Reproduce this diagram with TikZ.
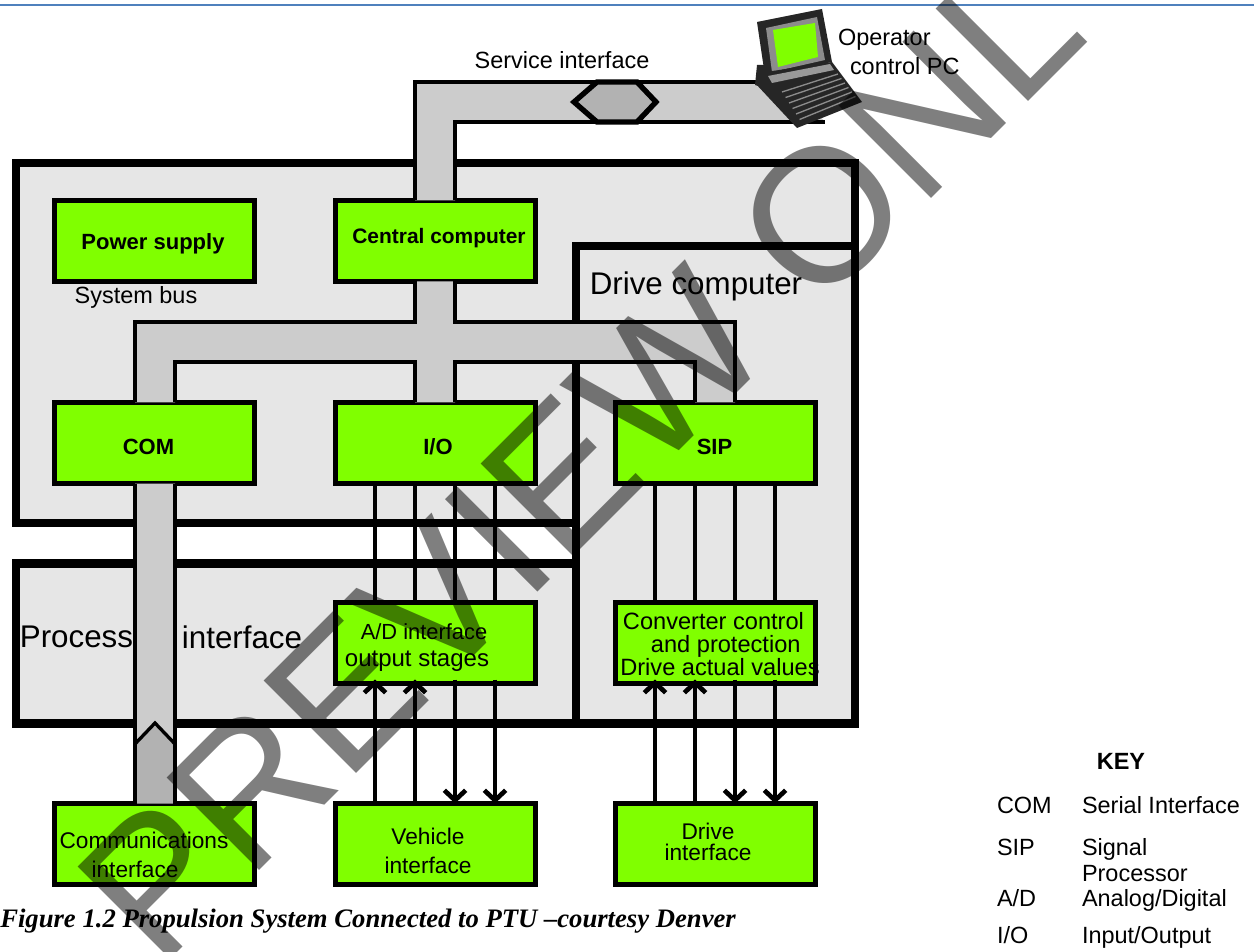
\documentclass[tikz,border=0pt]{standalone}
\usepackage{fontspec}
\setmainfont{Liberation Sans}
\newfontfamily\capfont{Liberation Serif}
\usetikzlibrary{arrows.meta}
\newcommand\pxu{0.75pt}
\definecolor{grn}{HTML}{80FF00}
\definecolor{frm}{HTML}{E6E6E6}
\definecolor{busa}{HTML}{CCCCCC}
\definecolor{busb}{HTML}{B2B2B2}
\definecolor{rule}{HTML}{4F81BD}
\tikzset{
  x=0.75pt,y=-0.75pt,
  frame/.style={draw=black,fill=frm,line width=6.5pt,miter limit=10},
  gbox/.style={draw=black,fill=grn,line width=3.75pt,minimum width=200*\pxu,minimum height=81*\pxu,outer sep=0pt,inner sep=0pt},
  lab/.style={inner sep=0pt,outer sep=0pt,align=center,font=\fontsize{17}{22}\selectfont},
  blab/.style={inner sep=0pt,outer sep=0pt,font=\fontsize{16.5}{18}\selectfont\bfseries},
  wire/.style={draw=black,line width=3.5pt},
  wired/.style={wire,-{Straight Barb[length=7.5pt,width=16pt,line width=3.5pt]}},
  txt/.style={inner sep=0pt,outer sep=0pt,font=\fontsize{17.6}{20}\selectfont},
  big/.style={inner sep=0pt,outer sep=0pt,font=\fontsize{23.5}{26}\selectfont},
  key/.style={inner sep=0pt,outer sep=0pt,anchor=base west,font=\fontsize{17.6}{20}\selectfont},
}
\begin{document}
\begin{tikzpicture}
\useasboundingbox (0,0) rectangle (1254,952);
\clip (0,0) rectangle (1254,952);
\fill[white] (0,0) rectangle (1254,952);
\draw[rule,line width=1.7pt] (0,5) -- (1254,5);
% frames
\draw[frame] (16,163) rectangle (855,523);
\draw[frame] (16,563.5) rectangle (576,723.5);
\draw[frame] (576,246) rectangle (855,723.5);
\fill[frm] (20,167.5) rectangle (570,518.5);
\fill[frm] (570,167.5) rectangle (851,241);
% boxes
\node[gbox] (pwr) at (154,241) {};
\node[gbox] (cpu) at (435,241) {};
\node[gbox] (com) at (154,443) {};
\node[gbox] (io) at (435,443) {};
\node[gbox] (sip) at (715,443) {};
\node[gbox] (ad) at (435,643) {};
\node[gbox] (cnv) at (715,643) {};
\node[gbox] (cif) at (154,844) {};
\node[gbox] (veh) at (435,844) {};
\node[gbox] (drv) at (715,844) {};
\node[blab] (pwrt) at (153,244) {Power supply};
\node[blab,font=\fontsize{15.7}{18}\selectfont\bfseries] (cput) at (439,238) {Central computer};
\node[blab] (comt) at (148.5,446.5) {COM};
\node[blab] (iot) at (438,446.5) {I/O};
\node[blab] (sipt) at (714.5,446.5) {SIP};
\node[lab] (veht) at (428,851) {Vehicle\\interface};
\node[lab,font=\fontsize{16.4}{20}\selectfont] (adt1) at (424,632) {A/D interface};
\node[lab,font=\fontsize{18}{20}\selectfont] (adt2) at (417,661) {output stages};
\node[lab,align=left,font=\fontsize{17.7}{17}\selectfont] (cnt) at (720,644) {\hspace*{2pt}Converter control\\\hspace*{23pt}and protection\\Drive actual values};
\node[lab,align=left] (cit) at (144,855) {Communications\\\hspace*{24pt}interface};
\node[lab,font=\fontsize{17}{16}\selectfont] (drt) at (708,842) {Drive\\interface};
% service bus
\coordinate (sa) at (415,82);
\coordinate (sb) at (455,122);
\coordinate (pcl) at (790,82);
\coordinate (pcm) at (825,122);
\fill[busa] (cpu.north -| sa) -- (sa) -- (pcl) -- (pcm) -- (sb) -- (cpu.north -| sb) -- cycle;
\draw[wire] (cpu.north -| sa) -- (sa) -- (pcl);
\draw[wire] (cpu.north -| sb) -- (sb) -- (pcm);
\path[draw=black,fill=busb,line width=4pt] (574,102) -- (597,82) -- (637,82) -- (656,102) -- (637,122) -- (597,122) -- cycle;
% system bus
\coordinate (b1) at (135,322);
\coordinate (b2) at (175,362);
\coordinate (b3) at (415,322);
\coordinate (b4) at (455,362);
\coordinate (b5) at (695,322);
\coordinate (b6) at (735,362);
\fill[busa] (com.north -| b1) -- (b1) -- (b3) -- (cpu.south -| b3) -- (cpu.south -| b4) -- (b3 -| b4) -- (b6 |- b1) -- (sip.north -| b6) -- (sip.north -| b5) -- (b5 |- b2) -- (b4) -- (io.north -| b4) -- (io.north -| b3) -- (b3 |- b2) -- (b2) -- (com.north -| b2) -- cycle;
\draw[wire] (com.north -| b1) -- (b1) -- (b3) -- (cpu.south -| b3);
\draw[wire] (cpu.south -| b4) -- (b3 -| b4) -- (b6 |- b1) -- (sip.north -| b6);
\draw[wire] (sip.north -| b5) -- (b5 |- b2) -- (b4) -- (io.north -| b4);
\draw[wire] (io.north -| b3) -- (b3 |- b2) -- (b2) -- (com.north -| b2);
\draw[black,line width=6.5pt] (576,363) -- (576,520);
% COM down bus
\coordinate (cx1) at (135,0);
\coordinate (cx2) at (175,0);
\coordinate (chl) at (135,744);
\coordinate (chm) at (155,723);
\coordinate (chr) at (175,744);
\fill[busb] (chl) -- (chm) -- (chr) -- (cif.north -| cx2) -- (cif.north -| cx1) -- cycle;
\fill[busa] (com.south -| cx1) -- (chl) -- (chm) -- (chr) -- (com.south -| cx2) -- cycle;
\draw[wire] (com.south -| cx1) -- (cif.north -| cx1);
\draw[wire] (com.south -| cx2) -- (cif.north -| cx2);
\draw[black,line width=2.5pt] (chl) -- (chm) -- (chr);
% signal wires
\foreach \n/\xx in {a/375,b/415,c/455,d/495,e/655,f/695,g/735,h/775}{\coordinate (w\n) at (\xx,0);}
\draw[wire] (io.south -| wa) -- (ad.north -| wa);
\draw[wire] (io.south -| wb) -- (ad.north -| wb);
\draw[wire] (io.south -| wc) -- (ad.north -| wc);
\draw[wire] (io.south -| wd) -- (ad.north -| wd);
\draw[wire] (sip.south -| we) -- (cnv.north -| we);
\draw[wire] (sip.south -| wf) -- (cnv.north -| wf);
\draw[wire] (sip.south -| wg) -- (cnv.north -| wg);
\draw[wire] (sip.south -| wh) -- (cnv.north -| wh);
\draw[wired] (veh.north -| wa) -- ([yshift=3pt]ad.south -| wa);
\draw[wired] (veh.north -| wb) -- ([yshift=3pt]ad.south -| wb);
\draw[wired] ([yshift=3pt]ad.south -| wc) -- (veh.north -| wc);
\draw[wired] ([yshift=3pt]ad.south -| wd) -- (veh.north -| wd);
\draw[wired] (drv.north -| we) -- ([yshift=3pt]cnv.south -| we);
\draw[wired] (drv.north -| wf) -- ([yshift=3pt]cnv.south -| wf);
\draw[wired] ([yshift=3pt]cnv.south -| wg) -- (drv.north -| wg);
\draw[wired] ([yshift=3pt]cnv.south -| wh) -- (drv.north -| wh);
% laptop
\fill[black!85] (757,65) -- (765,65) -- (770,90) -- (755,85) -- cycle;
\fill[black!85] (757,22) -- (822,9) -- (832,62) -- (765,76) -- cycle;
\fill[black!45] (766,28) -- (817,17) -- (825,60) -- (772,72) -- cycle;
\fill[grn] (773,30) -- (815,23) -- (818,57) -- (778,67) -- cycle;
\fill[black!85] (755,83) -- (766,72) -- (832,62) -- (862,102) -- (797,128) -- cycle;
\fill[black!40] (768,76) -- (830,64) -- (834,70) -- (772,83) -- cycle;
\foreach \t in {0,1,2,3,4,5}{
  \draw[black!45,line width=1pt] (782+3.5*\t,92+5.5*\t) -- (838+3.5*\t,74+4.5*\t);
}
% labels
\node[txt] (l1) at (562,60) {Service interface};
\node[txt,anchor=west] (l2) at (838,40) {Operator};
\node[txt,anchor=west] (l3) at (850,66) {control PC};
\node[txt] (l4) at (136,297) {System bus};
\node[big] (l5) at (696,286) {Drive computer};
\node[big] (l6) at (76.5,637) {Process};
\node[big] (l7) at (242,637) {interface};
\node[txt,font=\fontsize{17.6}{20}\selectfont\bfseries] (k0) at (1121,761) {KEY};
\node[key] (k1) at (997,813) {COM};
\node[key] (k2) at (1082,813) {Serial Interface};
\node[key] (k3) at (997,855) {SIP};
\node[key] (k4) at (1082,855) {Signal};
\node[key] (k5) at (1082,881) {Processor};
\node[key] (k6) at (997,906) {A/D};
\node[key] (k7) at (1082,906) {Analog/Digital};
\node[key] (k8) at (997,943) {I/O};
\node[key] (k9) at (1082,943) {Input/Output};
\node[inner sep=0pt,anchor=west,font=\capfont\fontsize{20}{22}\selectfont\bfseries\itshape] (cap) at (0,921) {Figure 1.2 Propulsion System Connected to PTU –courtesy Denver};
% watermark
\node[inner sep=0pt,anchor=base west,rotate=45,opacity=0.5,font=\fontsize{142.5}{150}\selectfont] (wm) at (159,971) {PREVIEW ONL};
\end{tikzpicture}
\end{document}
